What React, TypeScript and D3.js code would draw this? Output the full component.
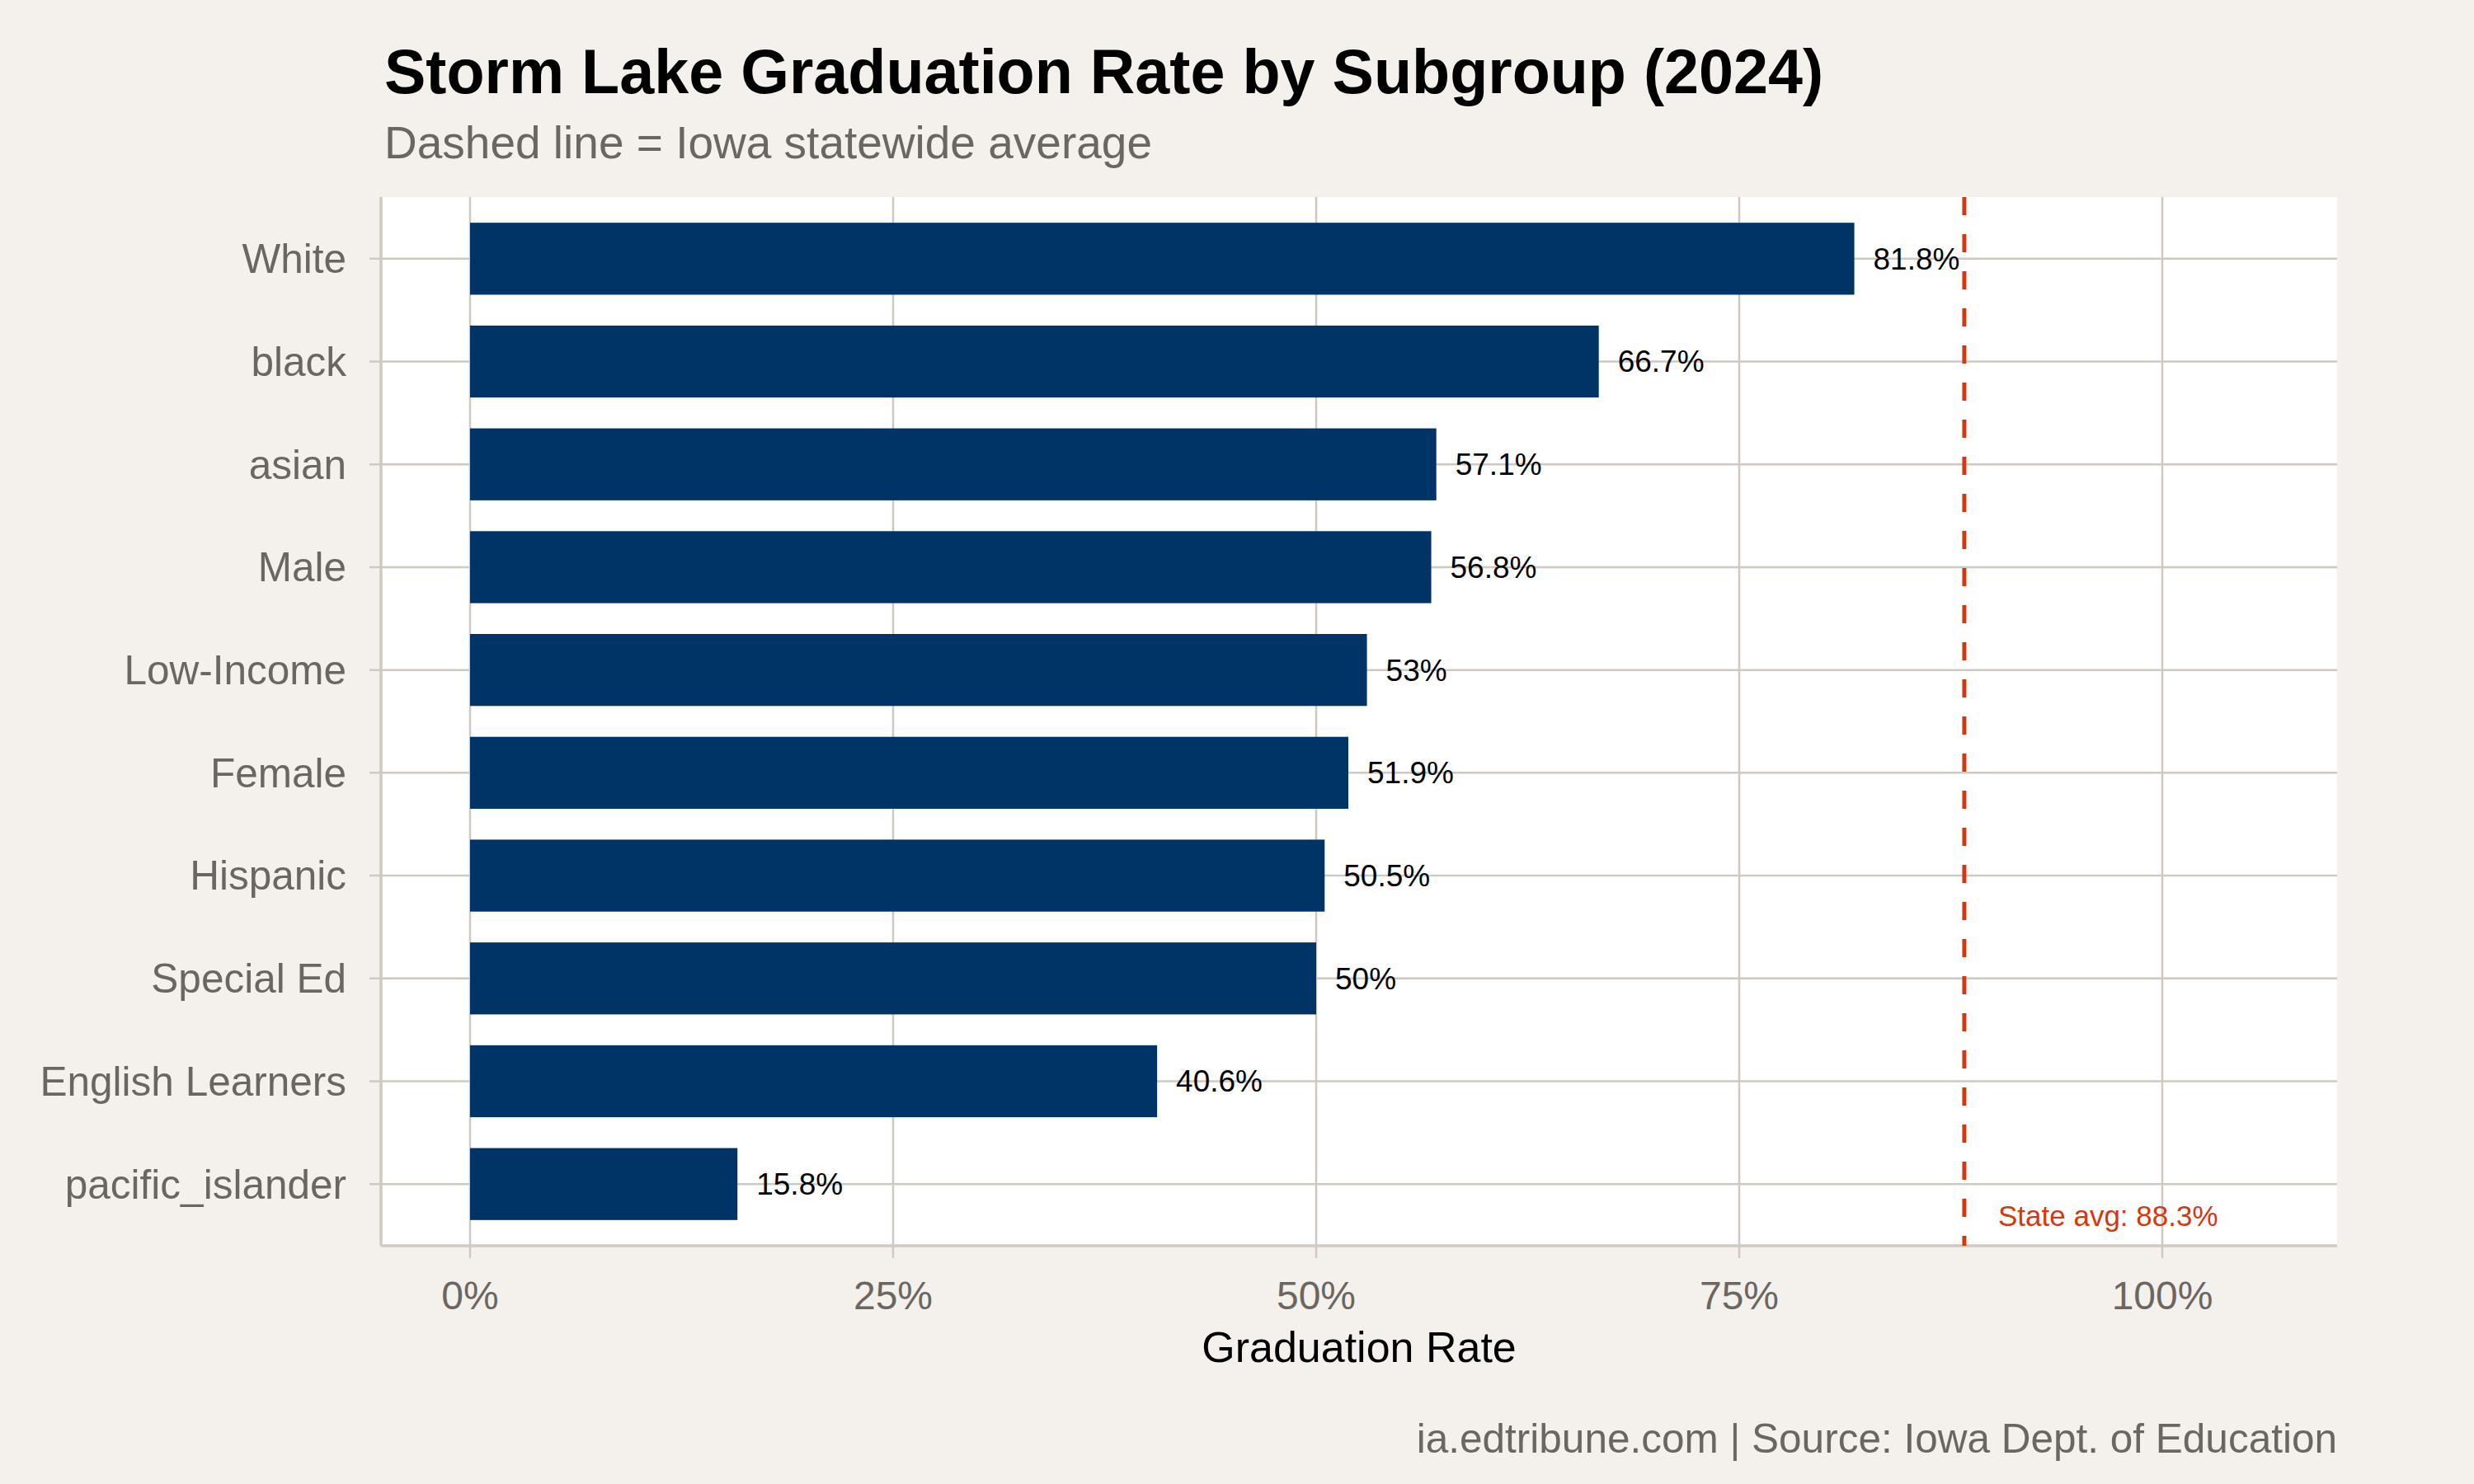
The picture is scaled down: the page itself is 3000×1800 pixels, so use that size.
import React from "react";
import * as d3 from "d3";

const categories = [
  "White",
  "black",
  "asian",
  "Male",
  "Low-Income",
  "Female",
  "Hispanic",
  "Special Ed",
  "English Learners",
  "pacific_islander",
];
const rates = [81.8, 66.7, 57.1, 56.8, 53, 51.9, 50.5, 50, 40.6, 15.8];
const stateAverage = 88.3;
const xTicks = [0, 0.25, 0.5, 0.75, 1];
const xTickLabels = ["0%", "25%", "50%", "75%", "100%"];

const TITLE = "Storm Lake Graduation Rate by Subgroup (2024)";
const SUBTITLE = "Dashed line = Iowa statewide average";
const X_TITLE = "Graduation Rate";
const CAPTION = "ia.edtribune.com | Source: Iowa Dept. of Education";

const W = 3000;
const H = 1800;
const FONT = "'Liberation Sans', Arial, Helvetica, sans-serif";
const BG = "#F4F1EC";
const GRID = "#CFC9C1";
const BAR = "#003366";
const RED = "#D4380D";
const GRAY_TEXT = "#6B6661";

export default function App() {
  const panel = { left: 462, right: 2834, top: 239, bottom: 1511 };
  const x = d3
    .scaleLinear()
    .domain([-0.05263, 1.1033])
    .range([panel.left, panel.right]);
  const y = d3
    .scaleBand<string>()
    .domain(categories)
    .range([panel.top, panel.bottom])
    .paddingInner(0.3)
    .paddingOuter(0.25);
  const bw = y.bandwidth();
  const step = y.step();
  const cy = (c: string) => (y(c) as number) + bw / 2;
  const sx = x(stateAverage / 100);
  const last = categories[categories.length - 1];

  return (
    <svg
      width={W}
      height={H}
      viewBox={`0 0 ${W} ${H}`}
      style={{ position: "absolute", left: 0, top: 0, display: "block" }}
      fontFamily={FONT}
    >
      <rect x={0} y={0} width={W} height={H} fill={BG} />
      <rect
        x={panel.left}
        y={panel.top}
        width={panel.right - panel.left}
        height={panel.bottom - panel.top}
        fill="#FFFFFF"
      />
      {/* vertical grid */}
      {xTicks.map((t) => (
        <line
          key={"vg" + t}
          x1={x(t)}
          x2={x(t)}
          y1={panel.top}
          y2={panel.bottom + 15}
          stroke={GRID}
          strokeWidth={2.5}
        />
      ))}
      {/* horizontal grid + ticks */}
      {categories.map((c) => (
        <line
          key={"hg" + c}
          x1={panel.left - 14}
          x2={panel.right}
          y1={cy(c)}
          y2={cy(c)}
          stroke={GRID}
          strokeWidth={2.5}
        />
      ))}
      {/* axis lines */}
      <line
        x1={panel.left}
        x2={panel.left}
        y1={panel.top}
        y2={panel.bottom}
        stroke={GRID}
        strokeWidth={3.5}
      />
      <line
        x1={panel.left}
        x2={panel.right}
        y1={panel.bottom}
        y2={panel.bottom}
        stroke={GRID}
        strokeWidth={3.5}
      />
      {/* bars */}
      {categories.map((c, i) => (
        <rect
          key={"b" + c}
          x={x(0)}
          y={y(c) as number}
          width={x(rates[i] / 100) - x(0)}
          height={bw}
          fill={BAR}
        />
      ))}
      {/* value labels */}
      {categories.map((c, i) => (
        <text
          key={"v" + c}
          x={x(rates[i] / 100) + 23}
          y={cy(c)}
          dy="0.35em"
          fontSize={37}
          fill="#000000"
        >
          {`${rates[i]}%`}
        </text>
      ))}
      {/* state average line */}
      <line
        x1={sx}
        x2={sx}
        y1={panel.top}
        y2={panel.bottom}
        stroke={RED}
        strokeWidth={5}
        strokeDasharray="22,23"
      />
      <text
        x={x(stateAverage / 100 + 0.02)}
        y={cy(last) + step * 0.41}
        fontSize={35}
        fill={RED}
      >
        {`State avg: ${stateAverage}%`}
      </text>
      {/* y labels */}
      {categories.map((c) => (
        <text
          key={"yl" + c}
          x={420}
          y={cy(c)}
          dy="0.35em"
          textAnchor="end"
          fontSize={49.5}
          fill={GRAY_TEXT}
        >
          {c}
        </text>
      ))}
      {/* x labels */}
      {xTicks.map((t, i) => (
        <text
          key={"xl" + t}
          x={x(t)}
          y={1588}
          textAnchor="middle"
          fontSize={48}
          fill={GRAY_TEXT}
        >
          {xTickLabels[i]}
        </text>
      ))}
      <text
        x={(panel.left + panel.right) / 2}
        y={1652}
        textAnchor="middle"
        fontSize={52}
        fill="#000000"
      >
        {X_TITLE}
      </text>
      <text x={466} y={113} fontSize={75.5} fontWeight="bold" fill="#000000">
        {TITLE}
      </text>
      <text x={466} y={192} fontSize={55} fill={GRAY_TEXT}>
        {SUBTITLE}
      </text>
      <text
        x={panel.right}
        y={1762}
        textAnchor="end"
        fontSize={49.5}
        fill={GRAY_TEXT}
      >
        {CAPTION}
      </text>
    </svg>
  );
}
